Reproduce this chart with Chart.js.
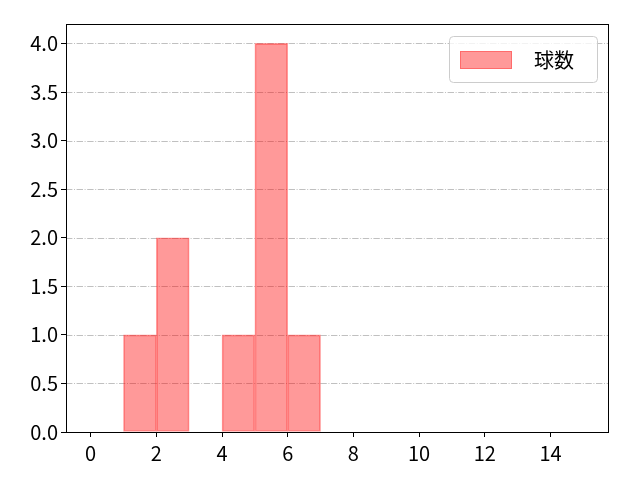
<!DOCTYPE html>
<html>
<head>
<meta charset="utf-8">
<script src="https://cdn.jsdelivr.net/npm/chart.js@4"></script>
<style>
html,body{margin:0;padding:0;background:#fff;}
#wrap{width:640px;height:480px;}
</style>
</head>
<body>
<div id="wrap"><canvas id="c" width="640" height="480"></canvas></div>
<script>
const seriesLabel = "球数";
const binCenters = [1.5, 2.5, 4.5, 5.5, 6.5];
const counts = [1, 2, 1, 4, 1];
const xTicks = [0, 2, 4, 6, 8, 10, 12, 14];
const yTicks = [0, 0.5, 1.0, 1.5, 2.0, 2.5, 3.0, 3.5, 4.0];

const FONT = "'Noto Sans CJK JP', 'DejaVu Sans', sans-serif";

const framePlugin = {
  id: 'frame',
  beforeDatasetsDraw(chart) {
    const {ctx, chartArea: a, scales: {y}} = chart;
    ctx.save();
    ctx.strokeStyle = '#b0b0b0';
    ctx.lineWidth = 0.8;
    ctx.setLineDash([6.4, 1.6, 1, 1.6]);
    yTicks.forEach(v => {
      const py = Math.round(y.getPixelForValue(v)) + 0.5;
      ctx.beginPath();
      ctx.moveTo(a.left, py);
      ctx.lineTo(a.right, py);
      ctx.stroke();
    });
    ctx.restore();
  },
  afterDatasetsDraw(chart) {
    const {ctx, chartArea: a} = chart;
    ctx.save();
    ctx.strokeStyle = '#000';
    ctx.lineWidth = 1;
    ctx.strokeRect(Math.round(a.left) + 0.5, Math.round(a.top) + 0.5,
      Math.round(a.right - a.left), Math.round(a.bottom - a.top));
    // legend
    const w = 148, h = 46;
    const lx = a.right - w - 11, ly = a.top + 12;
    ctx.fillStyle = 'rgba(255,255,255,0.8)';
    ctx.strokeStyle = '#cccccc';
    ctx.lineWidth = 1;
    ctx.beginPath();
    ctx.roundRect(lx + 0.5, ly + 0.5, w, h, 4);
    ctx.fill();
    ctx.stroke();
    ctx.fillStyle = 'rgba(255,0,0,0.4)';
    ctx.fillRect(lx + 11, ly + 15, 52, 18);
    ctx.strokeStyle = 'rgba(255,0,0,0.3)';
    ctx.strokeRect(lx + 11.5, ly + 15.5, 51, 17);
    ctx.fillStyle = '#000';
    ctx.font = '20px ' + FONT;
    ctx.textBaseline = 'middle';
    ctx.fillText(chart.data.datasets[0].label, lx + 85, ly + 24);
    ctx.restore();
  }
};

new Chart(document.getElementById('c'), {
  type: 'bar',
  data: {
    datasets: [{
      label: seriesLabel,
      data: binCenters.map((x, i) => ({x: x, y: counts[i]})),
      backgroundColor: 'rgba(255,0,0,0.4)',
      borderColor: 'rgba(255,40,40,0.45)',
      borderWidth: 1,
      borderSkipped: false,
      barPercentage: 1,
      categoryPercentage: 1
    }]
  },
  options: {
    responsive: false,
    animation: false,
    devicePixelRatio: 1,
    layout: {padding: {top: 24, right: 32, left: 0, bottom: 0}},
    plugins: {legend: {display: false}, tooltip: {enabled: false}},
    scales: {
      x: {
        type: 'linear',
        offset: false,
        min: -0.75,
        max: 15.75,
        afterBuildTicks: s => { s.ticks = xTicks.map(v => ({value: v})); },
        afterFit: s => { s.height = 48; },
        grid: {display: true, offset: false, drawOnChartArea: false, drawTicks: true, tickLength: 5, color: '#000'},
        border: {display: false},
        ticks: {color: '#000', font: {family: FONT, size: 20}, maxRotation: 0, padding: 4,
          callback: v => String(v)}
      },
      y: {
        min: 0,
        max: 4.2,
        afterBuildTicks: s => { s.ticks = yTicks.map(v => ({value: v})); },
        afterFit: s => { s.width = 66; },
        grid: {display: true, drawOnChartArea: false, drawTicks: true, tickLength: 5, color: '#000'},
        border: {display: false},
        ticks: {color: '#000', font: {family: FONT, size: 20}, padding: 3,
          callback: v => Number(v).toFixed(1)}
      }
    }
  },
  plugins: [framePlugin]
});
</script>
</body>
</html>
